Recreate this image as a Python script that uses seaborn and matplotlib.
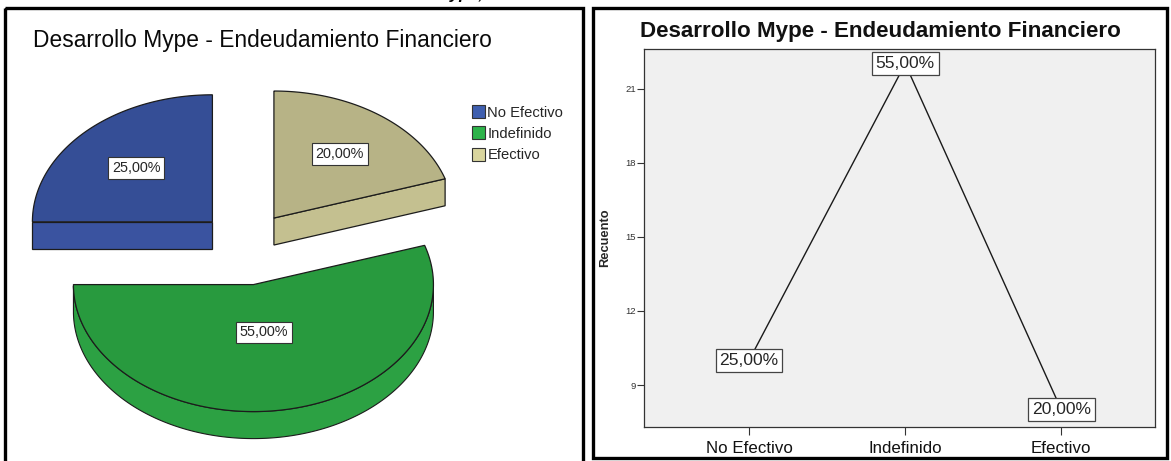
import numpy as np
import matplotlib
matplotlib.use("Agg")
import matplotlib.pyplot as plt
from matplotlib.patches import Polygon, Rectangle, Patch
import seaborn as sns
import pandas as pd

# ---- data -------------------------------------------------------------
categorias = ["No Efectivo", "Indefinido", "Efectivo"]
recuento = [10, 22, 8]
porcentajes = [25.0, 55.0, 20.0]
etiquetas = ["25,00%", "55,00%", "20,00%"]
titulo = "Desarrollo Mype - Endeudamiento Financiero"
y_ticks = [9, 12, 15, 18, 21]

# ---- style ------------------------------------------------------------
sns.set_theme(style="white")
plt.rcParams["font.family"] = ["Liberation Sans", "DejaVu Sans"]

top_colors = ["#354E96", "#289A3E", "#B7B386"]
side_colors = ["#3A53A0", "#2CA143", "#C4C090"]
legend_colors = ["#3F5FAF", "#2DB34A", "#D9D59E"]

W, H = 1171, 461
fig = plt.figure(figsize=(W / 100, H / 100), dpi=100)

# full-figure canvas in pixel units (y pointing down)
canvas = fig.add_axes([0, 0, 1, 1])
canvas.set_xlim(0, W)
canvas.set_ylim(H, 0)
canvas.axis("off")

# panel frames
canvas.add_patch(Rectangle((5, 8), 578, 460, fill=False, lw=2.4, ec="black", zorder=10))
canvas.add_patch(Rectangle((593, 8), 574, 450, fill=False, lw=2.4, ec="black", zorder=10))

# caption fragment above the panels
canvas.text(437, -1, "Mype,", fontsize=12, fontweight="bold", fontstyle="italic",
            va="baseline", ha="left", color="black")

# ---- left panel: exploded 3-D pie ------------------------------------
canvas.text(33, 40, titulo, fontsize=16.4, va="center", ha="left", color="#0a0a0a")

cx, cy = 246, 248          # pie centre
rx, ry = 180, 127          # ellipse radii of the top face
depth = 27                 # thickness of the disc
explode = 47.5
explode_ratio = 0.78
edge = "#1c1c1c"

bounds = 90 + np.cumsum([0] + porcentajes) * 3.6

def rim(x0, y0, t):
    return x0 + rx * np.cos(t), y0 - ry * np.sin(t)

for i in [0, 2, 1]:  # back slices first
    a1, a2 = np.radians(bounds[i]), np.radians(bounds[i + 1])
    mid = (a1 + a2) / 2
    x0 = cx + explode * np.cos(mid)
    y0 = cy - explode * explode_ratio * np.sin(mid)
    t = np.linspace(a1, a2, 300)
    xs, ys = rim(x0, y0, t)

    # outer wall facing the viewer
    vis = np.sin(t) < 0
    if vis.any():
        wx, wy = xs[vis], ys[vis]
        wall = np.column_stack([np.r_[wx, wx[::-1]], np.r_[wy, wy[::-1] + depth]])
        canvas.add_patch(Polygon(wall, closed=True, fc=side_colors[i], ec=edge, lw=0.8))

    # radial cut faces
    for a, show in [(a1, np.cos(a1) > 1e-9), (a2, np.cos(a2) < -1e-9)]:
        if show:
            ex, ey = rim(x0, y0, a)
            face = [(x0, y0), (ex, ey), (ex, ey + depth), (x0, y0 + depth)]
            canvas.add_patch(Polygon(face, closed=True, fc=side_colors[i], ec=edge, lw=0.9))

    # top face
    top = np.column_stack([np.r_[x0, xs], np.r_[y0, ys]])
    canvas.add_patch(Polygon(top, closed=True, fc=top_colors[i], ec=edge, lw=0.9))

    # value label at the sector centroid
    half = (a2 - a1) / 2
    f = (2 / 3) * np.sin(half) / half
    lx, ly = x0 + rx * f * np.cos(mid), y0 - ry * f * np.sin(mid)
    canvas.text(lx, ly, etiquetas[i], fontsize=10.4, ha="center", va="center",
                bbox=dict(boxstyle="square,pad=0.25", fc="white", ec="#333333", lw=0.8))

handles = [Patch(fc=c, ec="#333333", lw=0.8) for c in legend_colors]
canvas.legend(handles, categorias, loc="upper left", bbox_to_anchor=(472, 105),
              bbox_transform=canvas.transData, frameon=False, fontsize=10.6,
              handlelength=0.85, handleheight=1.0, handletextpad=0.2,
              labelspacing=0.45, borderpad=0, borderaxespad=0)

# ---- right panel: line chart -----------------------------------------
df = pd.DataFrame({"categoria": categorias, "recuento": recuento})
ax = fig.add_axes([644 / W, (H - 427) / H, (1155 - 644) / W, (427 - 49) / H])
ax.set_facecolor("#F0F0F0")
sns.lineplot(data=df, x="categoria", y="recuento", ax=ax, color="#1a1a1a",
             lw=1.0, sort=False)
ax.set_xlim(-0.673, 2.60)
ax.set_ylim(7.30, 22.60)
ax.set_yticks(y_ticks)
ax.set_yticklabels([str(v) for v in y_ticks], fontsize=6.8, color="#333333")
ax.set_xticks(range(len(categorias)))
ax.set_xticklabels(categorias, fontsize=12.2, color="#111111")
ax.tick_params(axis="y", direction="out", length=5, width=0.8, color="#333333", pad=1, left=True)
ax.tick_params(axis="x", direction="out", length=6, width=0.8, color="#333333", pad=4, bottom=True)
ax.set_xlabel("")
ax.set_ylabel("Recuento", fontsize=9.3, fontweight="bold", labelpad=10)
for s in ax.spines.values():
    s.set_color("#333333")
    s.set_linewidth(0.9)

for i, (v, lab) in enumerate(zip(recuento, etiquetas)):
    ax.text(i, v, lab, fontsize=12.6, ha="center", va="center", zorder=5,
            bbox=dict(boxstyle="square,pad=0.22", fc="white", ec="#444444", lw=0.9))

canvas.text(640, 31, titulo, fontsize=16.1, fontweight="bold", va="center", ha="left",
            color="#111111")

fig.savefig("out.png", dpi=100)
